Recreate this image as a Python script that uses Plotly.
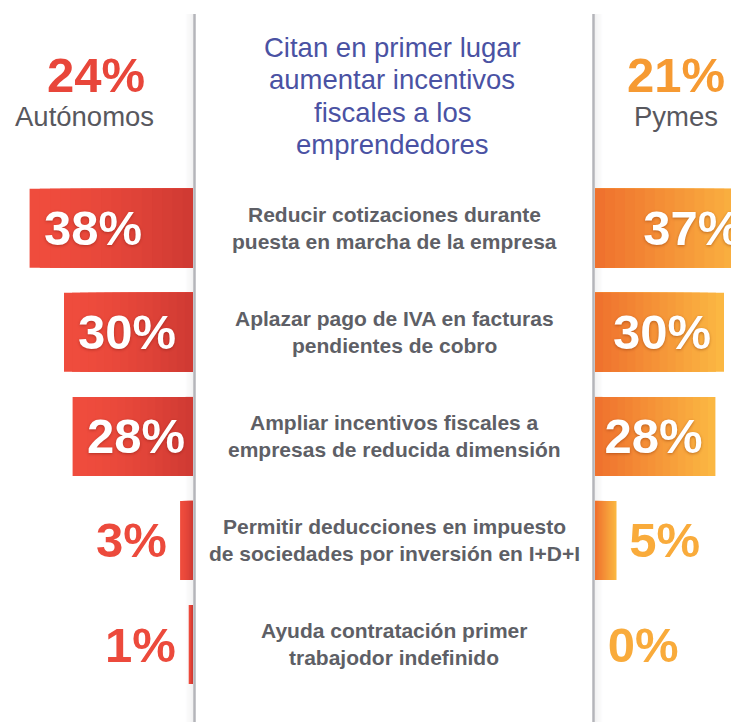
import plotly.graph_objects as go

# ---------------- data ----------------
categories = [
    "Reducir cotizaciones durante<br>puesta en marcha de la empresa",
    "Aplazar pago de IVA en facturas<br>pendientes de cobro",
    "Ampliar incentivos fiscales a<br>empresas de reducida dimensión",
    "Permitir deducciones en impuesto<br>de sociedades por inversión en I+D+I",
    "Ayuda contratación primer<br>trabajodor indefinido",
]
autonomos = [38, 30, 28, 3, 1]
pymes = [37, 30, 28, 5, 0]
header_labels = ["Autónomos", "Pymes"]
header_values = [24, 21]
title_lines = ["Citan en primer lugar", "aumentar incentivos", "fiscales a los", "emprendedores"]

# ---------------- layout constants (window pixels) ----------------
OFF = 8                      # page body margin
WIN_W, WIN_H = 739, 722
W, H = WIN_W - OFF, WIN_H - OFF
LEFT_ZERO = 193
RIGHT_ZERO = 595
PX_PER_PCT = 4.3
ROW0 = 228.3
ROW_STEP = 104.05
BAR_W = 79 / ROW_STEP
INSIDE_MIN = 10
FONT = "Liberation Sans, Arial, Helvetica, sans-serif"

RED_LIGHT = (239, 76, 61)
RED_DARK = (208, 58, 51)
OR_IN = (239, 114, 46)
OR_OUT = (251, 183, 66)


def px(x):
    return (x - OFF) / W


def py(y):
    return 1 - (y - OFF) / H


def mix(a, b, t):
    return "rgb(%d,%d,%d)" % tuple(round(a[i] + (b[i] - a[i]) * t) for i in range(3))


fig = go.Figure()

N = 16
for k in range(N):
    frac = 1 - k / N
    t = k / (N - 1)
    fig.add_trace(go.Bar(
        y=categories, x=[v * frac for v in autonomos], orientation="h",
        xaxis="x", yaxis="y", width=BAR_W,
        marker=dict(color=mix(RED_LIGHT, RED_DARK, t ** 1.6), line=dict(width=0)),
        hoverinfo="skip", showlegend=False,
    ))
    fig.add_trace(go.Bar(
        y=categories, x=[v * frac for v in pymes], orientation="h",
        xaxis="x2", yaxis="y", width=BAR_W,
        marker=dict(color=mix(OR_OUT, OR_IN, t), line=dict(width=0)),
        hoverinfo="skip", showlegend=False,
    ))

# text layer for the right bars
fig.add_trace(go.Bar(
    y=categories, x=pymes, orientation="h", xaxis="x2", yaxis="y", width=BAR_W,
    marker=dict(color="rgba(0,0,0,0)", line=dict(width=0)),
    text=[f"{v}%\u2009" if v >= INSIDE_MIN else f"\u2009{v}%" for v in pymes],
    textposition=["inside" if v >= INSIDE_MIN else "outside" for v in pymes],
    insidetextanchor="end",
    insidetextfont=dict(family=FONT, size=49, color="white", weight="bold",
                        shadow="0px 1px 3px rgba(120,40,0,0.45)"),
    outsidetextfont=dict(family=FONT, size=49, color="#f9ab3b", weight="bold"),
    constraintext="none",
    hoverinfo="skip", showlegend=False,
))

annotations = []
# left bar labels
for cat, v in zip(categories, autonomos):
    inside = v >= INSIDE_MIN
    annotations.append(dict(
        x=v, y=cat, xref="x", yref="y", text=f"{v}%", showarrow=False,
        xanchor="left" if inside else "right", yanchor="middle",
        xshift=12 if inside else -11,
        font=dict(family=FONT, size=49, weight="bold",
                  color="white" if inside else "#ec4a3c",
                  shadow="0px 1px 3px rgba(110,20,10,0.45)" if inside else "none"),
    ))
# category labels (two lines each)
for cat in categories:
    for j, line in enumerate(cat.split("<br>")):
        annotations.append(dict(
            x=px(394), y=cat, xref="paper", yref="y", text=f"<b>{line}</b>",
            showarrow=False, xanchor="center", yanchor="middle", align="center",
            yshift=14 if j == 0 else -13,
            font=dict(family=FONT, size=21, color="#5e5f66"),
        ))
# headers
annotations += [
    dict(x=px(95.5), y=py(75), xref="paper", yref="paper", showarrow=False,
         text=f"<b>{header_values[0]}%</b>", xanchor="center", yanchor="middle",
         font=dict(family=FONT, size=49, color="#e8463a")),
    dict(x=px(84.5), y=py(116), xref="paper", yref="paper", showarrow=False,
         text=header_labels[0], xanchor="center", yanchor="middle",
         font=dict(family=FONT, size=27.5, color="#58585e")),
    dict(x=px(676), y=py(75), xref="paper", yref="paper", showarrow=False,
         text=f"<b>{header_values[1]}%</b>", xanchor="center", yanchor="middle",
         font=dict(family=FONT, size=49, color="#f69a32")),
    dict(x=px(676), y=py(116), xref="paper", yref="paper", showarrow=False,
         text=header_labels[1], xanchor="center", yanchor="middle",
         font=dict(family=FONT, size=27.5, color="#58585e")),
]
for i, line in enumerate(title_lines):
    annotations.append(dict(
        x=px(392), y=py(47 + 32.5 * i), xref="paper", yref="paper", showarrow=False,
        text=line, xanchor="center", yanchor="middle",
        font=dict(family=FONT, size=27.5, color="#4a52a3")))

shapes = []
LINE_TOP = py(14)
# soft shadows beside the divider lines
for i in range(8):
    a = 0.10 * (1 - i / 8)
    shapes.append(dict(type="rect", xref="paper", yref="paper", layer="below",
                       x0=px(193.5 - i - 1), x1=px(193.5 - i), y0=0, y1=LINE_TOP,
                       fillcolor=f"rgba(120,120,130,{a:.3f})", line=dict(width=0)))
    shapes.append(dict(type="rect", xref="paper", yref="paper", layer="below",
                       x0=px(594.5 + i), x1=px(594.5 + i + 1), y0=0, y1=LINE_TOP,
                       fillcolor=f"rgba(120,120,130,{a:.3f})", line=dict(width=0)))
for xp in (194.5, 593.5):
    shapes.append(dict(type="line", xref="paper", yref="paper", x0=px(xp), x1=px(xp),
                       y0=0, y1=LINE_TOP, line=dict(color="#b4b5ba", width=2.5)))

fig.update_layout(
    width=W, height=H, margin=dict(l=0, r=0, t=0, b=0),
    paper_bgcolor="white", plot_bgcolor="rgba(0,0,0,0)",
    barmode="overlay", showlegend=False,
    xaxis=dict(domain=[0, px(LEFT_ZERO)], range=[(LEFT_ZERO - OFF) / PX_PER_PCT, 0],
               visible=False, fixedrange=True),
    xaxis2=dict(domain=[px(RIGHT_ZERO), 1], range=[0, (WIN_W - RIGHT_ZERO) / PX_PER_PCT],
                anchor="y", visible=False, fixedrange=True),
    yaxis=dict(range=[(WIN_H - ROW0) / ROW_STEP, (OFF - ROW0) / ROW_STEP], visible=False,
               fixedrange=True, type="category"),
    annotations=annotations, shapes=shapes,
)

fig.write_html("out.html")
